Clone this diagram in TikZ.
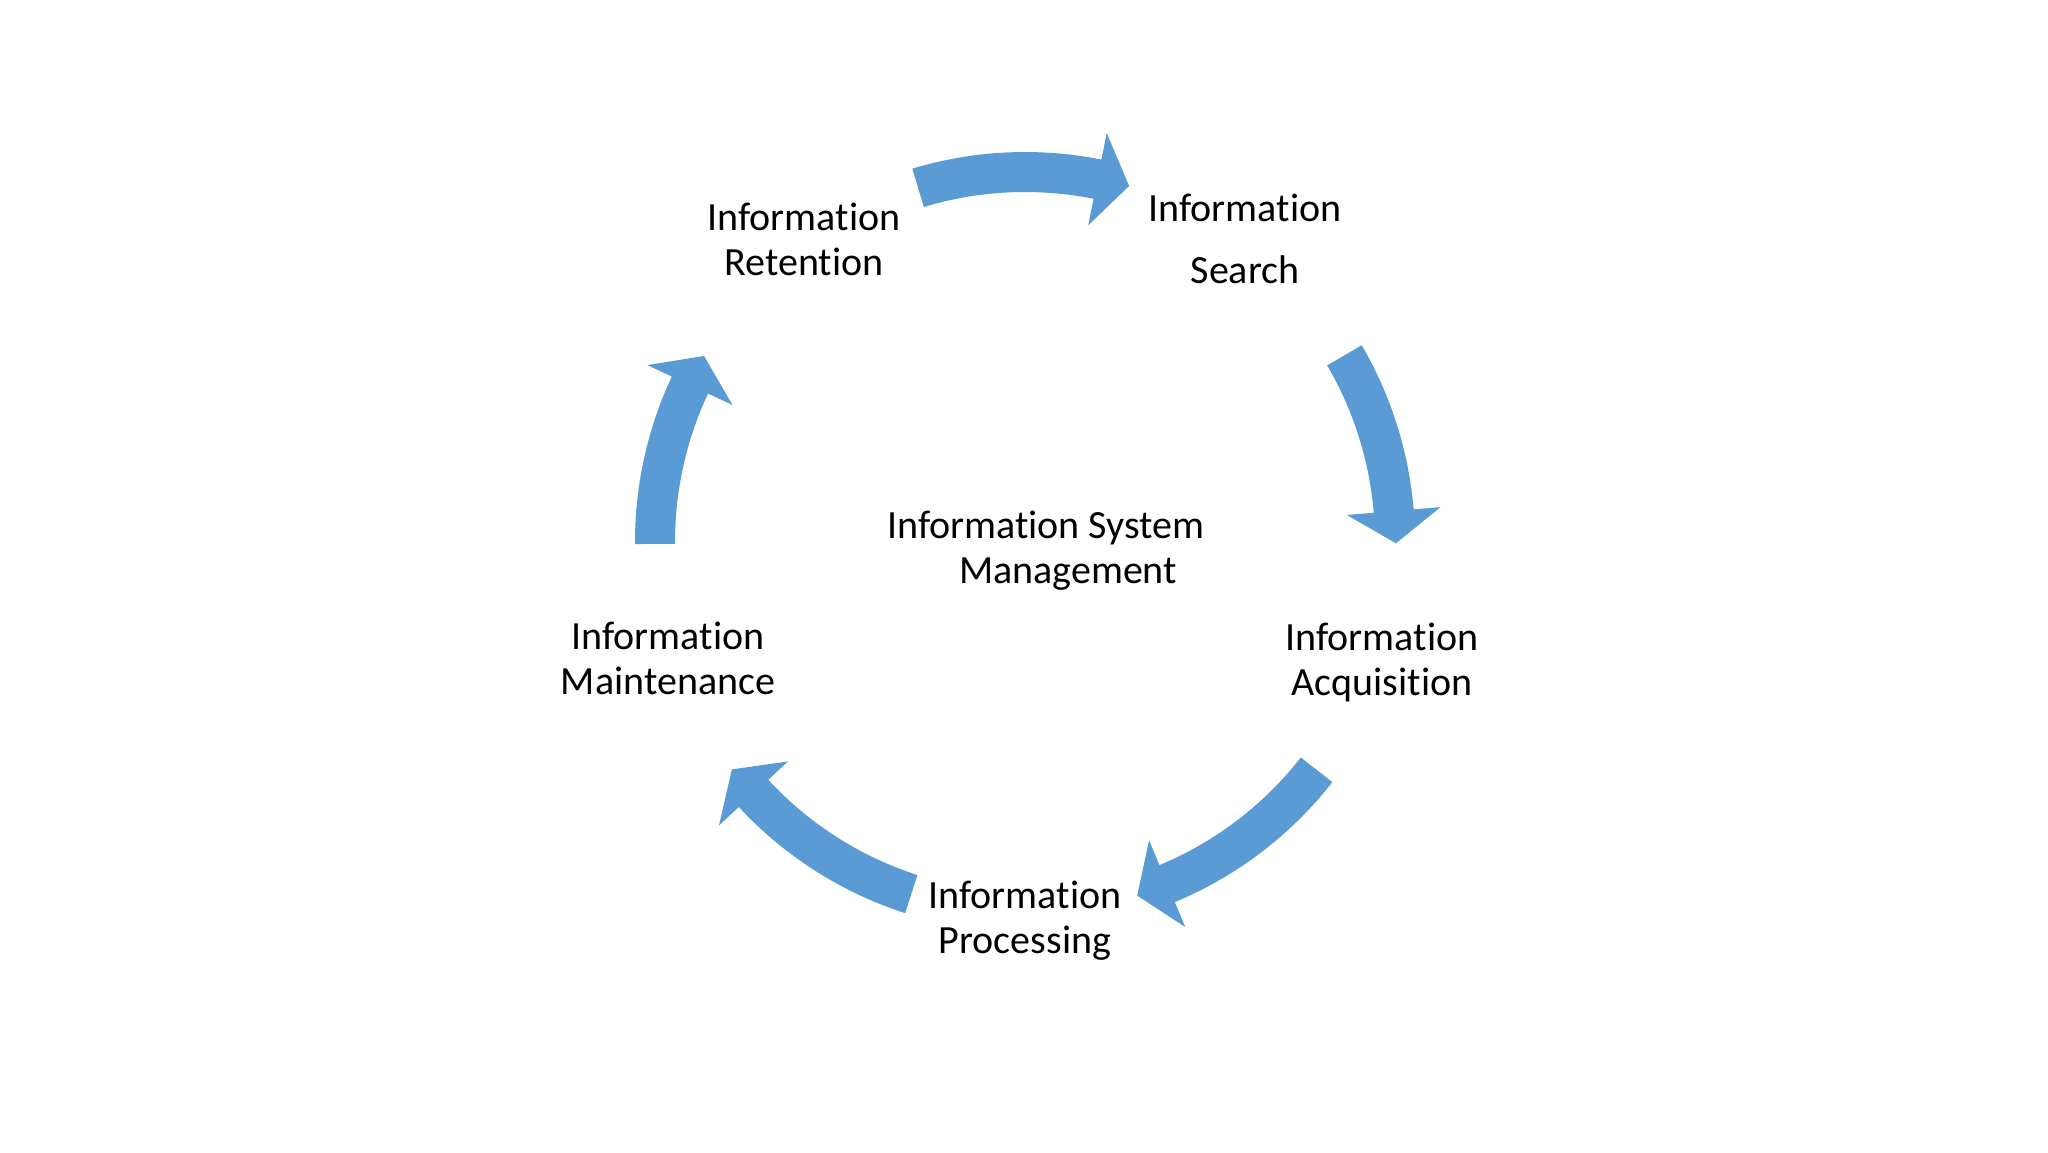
\documentclass[tikz,border=0pt]{standalone}
\usepackage{fontspec}
\setmainfont[Ligatures=NoCommon]{Carlito}
\definecolor{cycleblue}{HTML}{5B9BD5}
\tikzset{stage/.style={align=center, font=\fontsize{20}{22.5}\selectfont, inner sep=0pt}}
\tikzset{cyclearrow/.style={fill=cycleblue}}

\begin{document}
\begin{tikzpicture}[x=0.5pt,y=0.5pt]
  \useasboundingbox[fill=white] (-1025,-610) rectangle (1023,542);
  \node[stage] (ret) at (-221,303) {Information\\Retention};
  \node[stage] (srch) at (220,303) {Information\\[8.5pt]Search};
  \node[stage] (acq) at (357,-120) {Information\\Acquisition};
  \node[stage] (proc) at (0,-379) {Information\\Processing};
  \node[stage] (maint) at (-357,-116) {Information\\Maintenance};
  \node[stage] (ism) at (21,-9) {Information System\\\hspace*{22pt}Management};

  \foreach \s/\e in {106.8/73.7, 30.3/-0.2, -38/-72.4, -107.9/-142.2, 180.3/149.9}{
    \pgfmathsetmacro{\b}{\e+5}
    \fill[cyclearrow] (\s:390) arc[start angle=\s, end angle=\b, radius=390]
      -- (\b:417) -- (\e:371) -- (\b:323) -- (\b:350)
      arc[start angle=\b, end angle=\s, radius=350] -- cycle;
  }
\end{tikzpicture}
\end{document}
